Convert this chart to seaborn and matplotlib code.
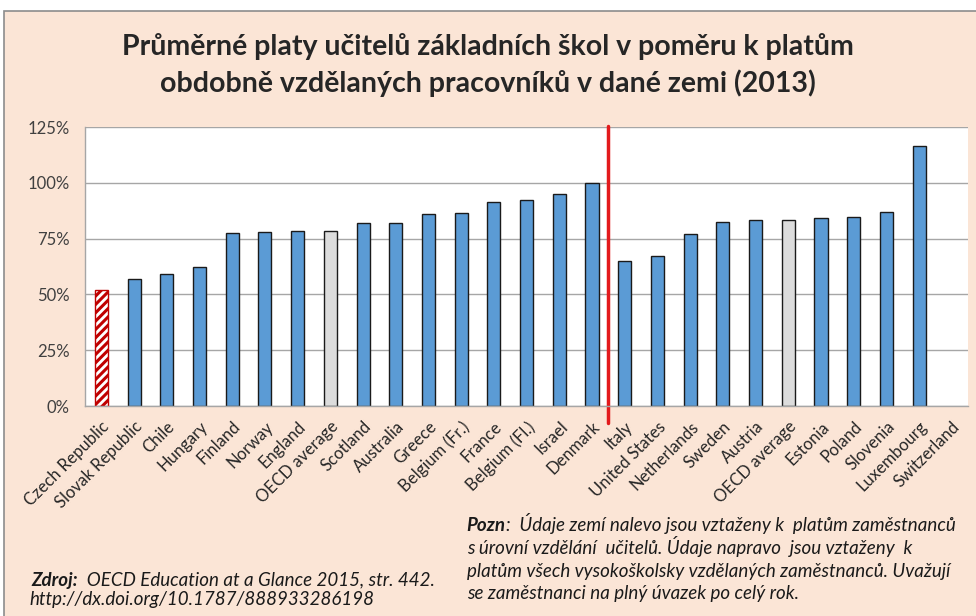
import numpy as np
import pandas as pd
import seaborn as sns
import matplotlib.pyplot as plt

# data (ratio of teacher salary, %)
countries = ["Czech Republic", "Slovak Republic", "Chile", "Hungary", "Finland",
             "Norway", "England", "OECD average", "Scotland", "Australia", "Greece",
             "Belgium (Fr.)", "France", "Belgium (Fl.)", "Israel", "Denmark",
             "Italy", "United States", "Netherlands", "Sweden", "Austria",
             "OECD average", "Estonia", "Poland", "Slovenia", "Luxembourg",
             "Switzerland"]
ratios = [52.0, 56.8, 59.2, 62.2, 77.4, 77.9, 78.3, 78.3, 82.1, 82.1, 86.0,
          86.4, 91.3, 92.2, 95.1, 100.0,
          65.0, 67.4, 77.0, 82.6, 83.2, 83.2, 84.1, 84.9, 87.0, 116.7, np.nan]
yticks = [0, 25, 50, 75, 100, 125]

title = ("Průměrné platy učitelů základních škol v poměru k platům\n"
         "obdobně vzdělaných pracovníků v dané zemi (2013)")

BG = "#fbe5d6"
BLUE = "#5b9bd5"
GREY = "#dcdcdc"
RED = "#c00000"

sns.set_theme(style="white")
plt.rcParams['font.family'] = ['Lato', 'DejaVu Sans']
plt.rcParams['hatch.linewidth'] = 2.2

df = pd.DataFrame({"slot": list(range(len(countries))), "country": countries,
                   "ratio": ratios})
palette = {}
for i, c in enumerate(countries):
    if c == "OECD average":
        palette[i] = GREY
    elif c == "Czech Republic":
        palette[i] = "white"
    else:
        palette[i] = BLUE

fig = plt.figure(figsize=(9.76, 6.16), dpi=100, facecolor="white")
# pink chart area with grey frame
fig.add_artist(plt.Rectangle((0.004, -0.01), 1.0, 0.992, transform=fig.transFigure,
                             facecolor=BG, edgecolor="#8c8c8c", lw=1.2, zorder=-5))

ax = fig.add_axes([0.0871, 0.3409, 0.9049, 0.4529])
sns.barplot(data=df, x="slot", y="ratio", hue="slot", palette=palette,
            order=list(range(len(countries))), legend=False, width=0.4,
            edgecolor="#1a1a1a", linewidth=1.0, saturation=1, ax=ax)

# hatched Czech bar
czech = ax.patches[0]
czech.set_hatch("////")
czech.set_edgecolor(RED)

ax.set_xlim(-0.5, len(countries) - 0.5)
ax.set_ylim(0, 125)
ax.set_yticks(yticks)
ax.set_yticklabels([f"{t}%" for t in yticks], fontsize=12, color="#404040")
ax.set_xticks(range(len(countries)))
ax.set_xticklabels(countries, rotation=45, ha="right", rotation_mode="anchor",
                   fontsize=12, color="#262626")
ax.tick_params(axis="both", length=0)
ax.tick_params(axis="x", pad=9)
ax.tick_params(axis="y", pad=11)
ax.set_xlabel("")
ax.set_ylabel("")
ax.set_axisbelow(True)
ax.yaxis.grid(True, color="#a6a6a6", lw=1)
for s in ["top", "right"]:
    ax.spines[s].set_visible(False)
for s in ["left", "bottom"]:
    ax.spines[s].set_color("#a6a6a6")
    ax.spines[s].set_linewidth(1)

# divider between the two groups
ax.axvline(15.5, ymin=-0.06, ymax=1.005, color="#e31a1c", lw=2.5, clip_on=False)

fig.text(0.5, 0.8945, title, ha="center", va="center", fontsize=20.5,
         fontweight="bold", color="#262626", linespacing=1.4)

# footnotes
fs = 13.5
src = fig.text(0.032, 0.049, "Zdroj:", fontsize=fs, style="italic",
               fontweight="bold", color="#1a1a1a", va="baseline")
ax.annotate("  OECD Education at a Glance 2015, str. 442.", xy=(1, 0),
            xycoords=src, fontsize=fs, style="italic", color="#1a1a1a",
            va="bottom")
fig.text(0.030, 0.018, "http://dx.doi.org/10.1787/888933286198", fontsize=fs,
         style="italic", color="#1a1a1a", va="baseline")

note = fig.text(0.478, 0.138, "Pozn", fontsize=fs, style="italic",
                fontweight="bold", color="#1a1a1a", va="baseline")
ax.annotate(":  Údaje zemí nalevo jsou vztaženy k  platům zaměstnanců",
            xy=(1, 0), xycoords=note, fontsize=fs, style="italic",
            color="#1a1a1a", va="bottom")
fig.text(0.478, 0.101, "s úrovní vzdělání  učitelů. Údaje napravo  jsou vztaženy  k",
         fontsize=fs, style="italic", color="#1a1a1a", va="baseline")
fig.text(0.478, 0.064,
         "platům všech vysokoškolsky vzdělaných zaměstnanců. Uvažují",
         fontsize=fs, style="italic", color="#1a1a1a", va="baseline")
fig.text(0.478, 0.028, "se zaměstnanci na plný úvazek po celý rok.",
         fontsize=fs, style="italic", color="#1a1a1a", va="baseline")

fig.savefig("out.png", dpi=100, facecolor="white")
